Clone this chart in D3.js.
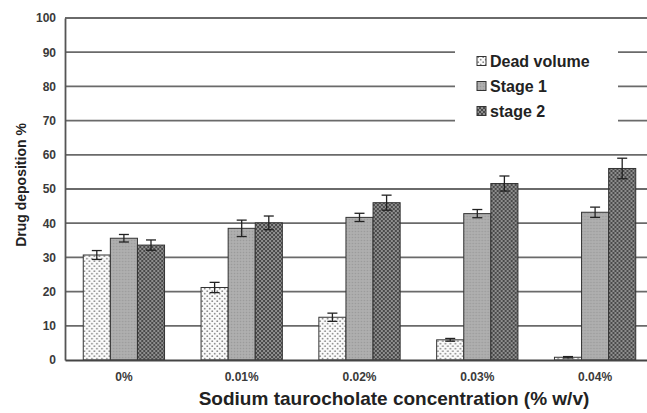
<!DOCTYPE html>
<html>
<head>
<meta charset="utf-8">
<script src="https://cdn.jsdelivr.net/npm/d3@7/dist/d3.min.js"></script>
<style>
  html, body { margin: 0; padding: 0; background: #fff; }
  svg { display: block; font-family: "Liberation Sans", Arial, sans-serif; }
</style>
</head>
<body>
<svg id="chart" width="647" height="413"></svg>
<script>
// Drug deposition (%) by sodium taurocholate concentration
const categories = ["0%", "0.01%", "0.02%", "0.03%", "0.04%"];
const seriesNames = ["Dead volume", "Stage 1", "stage 2"];
const deadVolume = [30.7, 21.2, 12.5, 5.9, 0.8];
const deadVolumeErr = [1.3, 1.5, 1.2, 0.4, 0.2];
const stage1 = [35.6, 38.5, 41.7, 42.8, 43.2];
const stage1Err = [1.1, 2.4, 1.2, 1.2, 1.5];
const stage2 = [33.6, 40.1, 46.0, 51.6, 56.0];
const stage2Err = [1.5, 2.0, 2.2, 2.2, 3.0];
const yTicks = [0, 10, 20, 30, 40, 50, 60, 70, 80, 90, 100];

const series = [
  { name: seriesNames[0], values: deadVolume, errors: deadVolumeErr, fill: "url(#patDead)" },
  { name: seriesNames[1], values: stage1, errors: stage1Err, fill: "url(#patStage1)" },
  { name: seriesNames[2], values: stage2, errors: stage2Err, fill: "url(#patStage2)" }
];

const svg = d3.select("#chart");
const margin = { left: 65, top: 18, bottom: 53 };
const plotRight = 654;            // plot extends slightly past the right edge
const height = 413;

// fill patterns
const defs = svg.append("defs");
const pDead = defs.append("pattern").attr("id", "patDead")
  .attr("patternUnits", "userSpaceOnUse").attr("width", 5).attr("height", 5);
pDead.append("rect").attr("width", 5).attr("height", 5).attr("fill", "#fbfbfb");
pDead.append("circle").attr("cx", 1.2).attr("cy", 1.2).attr("r", 0.9).attr("fill", "#8a8a8a");
pDead.append("circle").attr("cx", 3.7).attr("cy", 3.7).attr("r", 0.9).attr("fill", "#8a8a8a");

const pS1 = defs.append("pattern").attr("id", "patStage1")
  .attr("patternUnits", "userSpaceOnUse").attr("width", 3).attr("height", 3);
pS1.append("rect").attr("width", 3).attr("height", 3).attr("fill", "#ababab");
pS1.append("rect").attr("x", 0).attr("y", 0).attr("width", 1).attr("height", 1).attr("fill", "#9a9a9a");
pS1.append("rect").attr("x", 1.5).attr("y", 1.5).attr("width", 1).attr("height", 1).attr("fill", "#bdbdbd");

const pS2 = defs.append("pattern").attr("id", "patStage2")
  .attr("patternUnits", "userSpaceOnUse").attr("width", 4).attr("height", 4);
pS2.append("rect").attr("width", 4).attr("height", 4).attr("fill", "#4a4a4a");
pS2.append("rect").attr("x", 0).attr("y", 0).attr("width", 2).attr("height", 2).attr("fill", "#8e8e8e");
pS2.append("rect").attr("x", 2).attr("y", 2).attr("width", 2).attr("height", 2).attr("fill", "#8e8e8e");

const y = d3.scaleLinear().domain([0, 100]).range([height - margin.bottom, margin.top]);
const x0 = d3.scaleBand().domain(categories).range([margin.left, plotRight]).paddingInner(0.31).paddingOuter(0.155);
const x1 = d3.scaleBand().domain(seriesNames).range([0, x0.bandwidth()]);

// gridlines
svg.append("g").selectAll("line").data(yTicks.filter(d => d > 0)).join("line")
  .attr("x1", margin.left).attr("x2", plotRight)
  .attr("y1", d => y(d)).attr("y2", d => y(d))
  .attr("stroke", "#6a6a6a").attr("stroke-width", 1.8);

// y axis
const yAxis = svg.append("g").attr("transform", `translate(${margin.left},0)`)
  .call(d3.axisLeft(y).tickValues(yTicks).tickSize(0).tickPadding(9));
yAxis.select(".domain").attr("stroke", "#555").attr("stroke-width", 1.8);
yAxis.selectAll("text").attr("font-size", 12).attr("font-weight", "bold").attr("fill", "#3a3a3a")
  .attr("font-family", "Liberation Sans, Arial, sans-serif");

// bars
const groups = svg.append("g").selectAll("g").data(categories).join("g")
  .attr("transform", d => `translate(${x0(d)},0)`);

series.forEach(s => {
  groups.append("rect")
    .attr("x", x1(s.name))
    .attr("width", x1.bandwidth())
    .attr("y", (d, i) => y(s.values[i]))
    .attr("height", (d, i) => y(0) - y(s.values[i]))
    .attr("fill", s.fill)
    .attr("stroke", "#333").attr("stroke-width", 1);
});

// error bars
series.forEach(s => {
  const cx = x1(s.name) + x1.bandwidth() / 2;
  const eb = groups.append("g").attr("stroke", "#222").attr("stroke-width", 1.3);
  eb.append("line")
    .attr("x1", cx).attr("x2", cx)
    .attr("y1", (d, i) => y(s.values[i] - s.errors[i]))
    .attr("y2", (d, i) => y(s.values[i] + s.errors[i]));
  eb.append("line")
    .attr("x1", cx - 5).attr("x2", cx + 5)
    .attr("y1", (d, i) => y(s.values[i] + s.errors[i]))
    .attr("y2", (d, i) => y(s.values[i] + s.errors[i]));
  eb.append("line")
    .attr("x1", cx - 5).attr("x2", cx + 5)
    .attr("y1", (d, i) => y(s.values[i] - s.errors[i]))
    .attr("y2", (d, i) => y(s.values[i] - s.errors[i]));
});

// x axis
const xAxis = svg.append("g").attr("transform", `translate(0,${y(0)})`)
  .call(d3.axisBottom(x0).tickSize(0).tickPadding(12).tickSizeOuter(0));
xAxis.select(".domain").attr("stroke", "#444").attr("stroke-width", 1.8);
xAxis.selectAll("text").attr("font-size", 12).attr("font-weight", "bold").attr("fill", "#3a3a3a")
  .attr("font-family", "Liberation Sans, Arial, sans-serif");

// axis titles
svg.append("text")
  .attr("transform", `translate(26,185) rotate(-90)`)
  .attr("text-anchor", "middle")
  .attr("font-size", 14).attr("font-weight", "bold").attr("fill", "#222")
  .text("Drug deposition %");

svg.append("text")
  .attr("x", 394).attr("y", 405)
  .attr("text-anchor", "middle")
  .attr("font-size", 19).attr("font-weight", "bold").attr("fill", "#222")
  .text("Sodium taurocholate concentration (% w/v)");

// legend
const legend = svg.append("g");
legend.append("rect").attr("x", 455).attr("y", 40).attr("width", 163).attr("height", 94).attr("fill", "#fff");
const rows = legend.selectAll("g").data(series).join("g")
  .attr("transform", (d, i) => `translate(477,${61 + i * 25})`);
rows.append("rect").attr("x", 0).attr("y", -4.5).attr("width", 9).attr("height", 9)
  .attr("fill", d => d.fill).attr("stroke", "#333").attr("stroke-width", 1);
rows.append("text").attr("x", 13).attr("y", 0).attr("dy", "0.36em")
  .attr("font-size", 16).attr("font-weight", "bold").attr("fill", "#222")
  .text(d => d.name);
</script>
</body>
</html>
